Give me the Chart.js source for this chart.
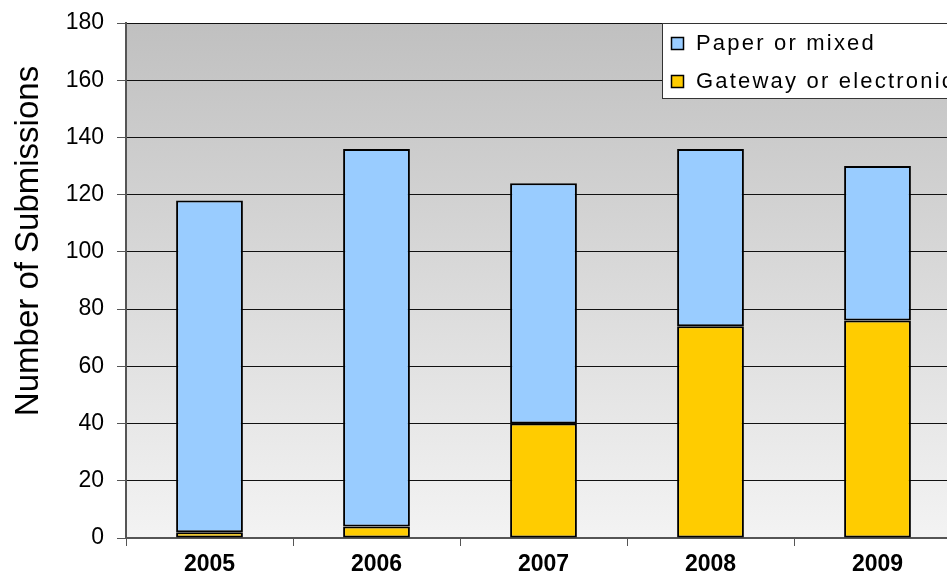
<!DOCTYPE html>
<html>
<head>
<meta charset="utf-8">
<script src="https://cdn.jsdelivr.net/npm/chart.js@4.4.1/dist/chart.umd.min.js"></script>
<style>
html,body{margin:0;padding:0;background:#fff;overflow:hidden;}
#wrap{width:970px;height:575px;position:relative;}
</style>
</head>
<body>
<div id="wrap"><canvas id="c" width="970" height="575"></canvas></div>
<script>
const categories = ["2005", "2006", "2007", "2008", "2009"];
const gatewayValues = [2, 4, 40, 74, 76];
const paperValues = [116, 132, 84, 62, 54];
const yTicks = [0, 20, 40, 60, 80, 100, 120, 140, 160, 180];
const seriesNames = ["Paper or mixed", "Gateway or electronic"];
const yTitle = "Number of Submissions";
const FONT = "'Liberation Sans', Arial, sans-serif";

const bgPlugin = {
  id: 'bg',
  beforeDraw(chart) {
    const {ctx, chartArea: a} = chart;
    const g = ctx.createLinearGradient(0, a.top, 0, a.bottom);
    g.addColorStop(0, '#c0c0c0');
    g.addColorStop(1, '#f3f3f3');
    ctx.save();
    ctx.fillStyle = g;
    ctx.fillRect(a.left, a.top, a.right - a.left, a.bottom - a.top);
    ctx.restore();
  }
};

const overlayPlugin = {
  id: 'overlay',
  afterDraw(chart) {
    const {ctx} = chart;
    ctx.save();
    ctx.translate(29, 241);
    ctx.rotate(-Math.PI / 2);
    ctx.font = "33px " + FONT;
    ctx.fillStyle = '#000';
    ctx.textAlign = 'center';
    ctx.textBaseline = 'middle';
    ctx.fillText(yTitle, 0, 0);
    ctx.restore();

    ctx.save();
    const x = 662.5, y = 23.5, w = 400, h = 75;
    ctx.fillStyle = '#fff';
    ctx.fillRect(x, y, w, h);
    ctx.strokeStyle = '#333';
    ctx.lineWidth = 1;
    ctx.strokeRect(x, y, w, h);
    const items = [
      {label: chart.data.datasets[1].label, color: chart.data.datasets[1].backgroundColor, cy: 43},
      {label: chart.data.datasets[0].label, color: chart.data.datasets[0].backgroundColor, cy: 81}
    ];
    ctx.font = "22px " + FONT;
    ctx.textBaseline = 'middle';
    try { ctx.letterSpacing = '2.2px'; } catch (e) {}
    items.forEach(it => {
      ctx.fillStyle = it.color;
      ctx.fillRect(672, it.cy - 5, 11, 11);
      ctx.strokeStyle = '#000';
      ctx.lineWidth = 1.5;
      ctx.strokeRect(671.5, it.cy - 5.5, 12, 12);
      ctx.fillStyle = '#000';
      ctx.fillText(it.label, 696, it.cy + 1);
    });
    ctx.restore();
  }
};

new Chart(document.getElementById('c'), {
  type: 'bar',
  data: {
    labels: categories,
    datasets: [
      {label: seriesNames[1], data: gatewayValues, backgroundColor: '#ffcc00', borderColor: '#000', borderWidth: 2, borderSkipped: false, barPercentage: 0.4, categoryPercentage: 1},
      {label: seriesNames[0], data: paperValues, backgroundColor: '#99ccff', borderColor: '#000', borderWidth: 2, borderSkipped: false, barPercentage: 0.4, categoryPercentage: 1}
    ]
  },
  options: {
    responsive: false,
    animation: false,
    layout: {padding: {top: 23, right: 9, left: 0, bottom: 0}},
    plugins: {legend: {display: false}, tooltip: {enabled: false}},
    scales: {
      x: {
        stacked: true,
        offset: true,
        grid: {display: true, drawOnChartArea: false, color: '#555', tickLength: 8, lineWidth: 1},
        border: {display: true, color: '#555', width: 2},
        ticks: {color: '#000', font: {family: FONT, size: 23, weight: 'bold'}, padding: 5, maxRotation: 0},
        afterFit(s) { s.height = 37; }
      },
      y: {
        stacked: true,
        min: 0, max: 180,
        afterBuildTicks(s) { s.ticks = yTicks.map(v => ({value: v})); },
        grid: {color: '#111', lineWidth: 1, tickLength: 9, tickColor: '#555'},
        border: {display: true, color: '#555', width: 2},
        ticks: {color: '#000', font: {family: FONT, size: 23, lineHeight: 1}, padding: 13},
        title: {display: false},
        afterFit(s) { s.width = 126; s.paddingTop = 0; s.paddingBottom = 0; }
      }
    }
  },
  plugins: [bgPlugin, overlayPlugin]
});
</script>
</body>
</html>
